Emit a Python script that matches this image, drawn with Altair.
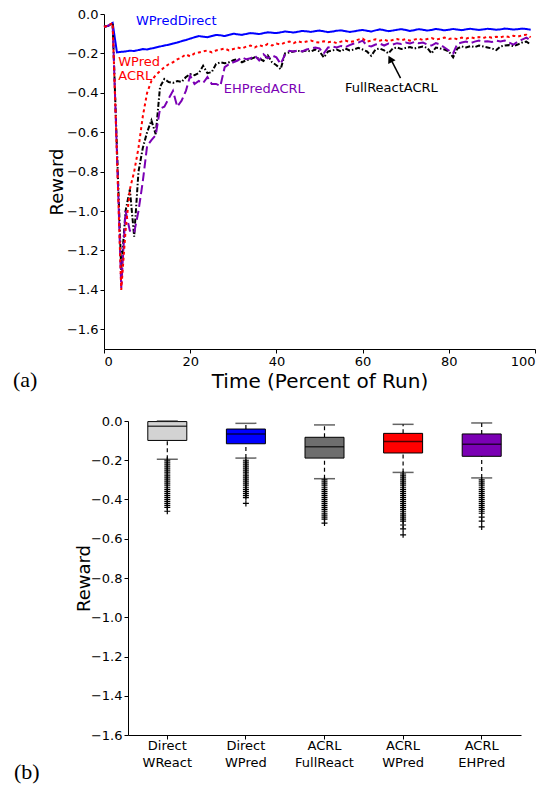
import altair as alt
import pandas as pd

# ---------------- Panel (a): reward over time ----------------
time_pct = list(range(100))

wpred_direct = [
    -0.065, -0.060, -0.045, -0.195, -0.192, -0.190, -0.186, -0.188, -0.183, -0.178,
    -0.180, -0.175, -0.170, -0.165, -0.160, -0.156, -0.150, -0.145, -0.138, -0.132,
    -0.125, -0.118, -0.112, -0.115, -0.118, -0.112, -0.106, -0.108, -0.112, -0.106,
    -0.100, -0.103, -0.106, -0.101, -0.097, -0.099, -0.102, -0.097, -0.093, -0.095,
    -0.097, -0.093, -0.089, -0.091, -0.094, -0.090, -0.086, -0.088, -0.091, -0.087,
    -0.084, -0.088, -0.092, -0.089, -0.085, -0.083, -0.087, -0.091, -0.088, -0.084,
    -0.081, -0.085, -0.089, -0.083, -0.078, -0.082, -0.087, -0.084, -0.080, -0.077,
    -0.081, -0.086, -0.082, -0.077, -0.080, -0.084, -0.081, -0.076, -0.079, -0.083,
    -0.080, -0.076, -0.079, -0.082, -0.078, -0.075, -0.078, -0.081, -0.078, -0.075,
    -0.077, -0.080, -0.078, -0.074, -0.076, -0.079, -0.077, -0.074, -0.076, -0.080,
]

wpred_acrl = [
    -0.065, -0.060, -0.045, -0.720, -1.400, -1.100, -0.890, -0.800, -0.680, -0.520,
    -0.400, -0.340, -0.310, -0.290, -0.270, -0.255, -0.245, -0.230, -0.220, -0.205,
    -0.215, -0.200, -0.195, -0.190, -0.185, -0.195, -0.185, -0.180, -0.175, -0.185,
    -0.178, -0.170, -0.175, -0.165, -0.160, -0.170, -0.158, -0.165, -0.152, -0.160,
    -0.150, -0.155, -0.145, -0.140, -0.148, -0.138, -0.145, -0.140, -0.135, -0.142,
    -0.145, -0.138, -0.143, -0.140, -0.148, -0.140, -0.135, -0.142, -0.138, -0.130,
    -0.125, -0.140, -0.135, -0.128, -0.135, -0.130, -0.138, -0.132, -0.127, -0.133,
    -0.128, -0.135, -0.130, -0.125, -0.132, -0.127, -0.122, -0.130, -0.125, -0.120,
    -0.127, -0.122, -0.128, -0.120, -0.125, -0.118, -0.123, -0.117, -0.122, -0.115,
    -0.120, -0.115, -0.118, -0.112, -0.117, -0.110, -0.115, -0.108, -0.105, -0.118,
]

fullreact_acrl = [
    -0.065, -0.060, -0.045, -0.680, -1.300, -1.000, -0.890, -1.130, -0.800, -0.680,
    -0.600, -0.540, -0.610, -0.370, -0.330, -0.345, -0.350, -0.340, -0.345, -0.320,
    -0.305, -0.310, -0.300, -0.263, -0.300, -0.295, -0.254, -0.245, -0.250, -0.245,
    -0.235, -0.229, -0.245, -0.235, -0.229, -0.220, -0.225, -0.238, -0.210, -0.245,
    -0.260, -0.280, -0.200, -0.195, -0.190, -0.187, -0.190, -0.185, -0.190, -0.180,
    -0.190, -0.220, -0.190, -0.185, -0.180, -0.190, -0.175, -0.185, -0.180, -0.172,
    -0.180, -0.190, -0.212, -0.180, -0.175, -0.185, -0.200, -0.175, -0.170, -0.178,
    -0.172, -0.168, -0.175, -0.170, -0.165, -0.172, -0.200, -0.170, -0.175, -0.180,
    -0.190, -0.220, -0.175, -0.165, -0.170, -0.163, -0.168, -0.160, -0.165, -0.170,
    -0.175, -0.183, -0.165, -0.160, -0.158, -0.163, -0.155, -0.145, -0.140, -0.155,
]

ehpred_acrl = [
    -0.065, -0.060, -0.045, -0.700, -1.390, -1.000, -1.100, -1.110, -1.000, -0.850,
    -0.670, -0.640, -0.615, -0.480, -0.470, -0.430, -0.390, -0.470, -0.440, -0.390,
    -0.313, -0.355, -0.340, -0.350, -0.320, -0.355, -0.355, -0.365, -0.270, -0.254,
    -0.245, -0.236, -0.220, -0.230, -0.225, -0.212, -0.236, -0.204, -0.225, -0.210,
    -0.220, -0.254, -0.205, -0.187, -0.190, -0.185, -0.190, -0.180, -0.175, -0.170,
    -0.175, -0.200, -0.170, -0.165, -0.170, -0.162, -0.168, -0.158, -0.150, -0.145,
    -0.135, -0.160, -0.165, -0.155, -0.150, -0.160, -0.150, -0.155, -0.148, -0.152,
    -0.145, -0.150, -0.142, -0.148, -0.145, -0.155, -0.160, -0.148, -0.155, -0.170,
    -0.185, -0.200, -0.150, -0.145, -0.140, -0.148, -0.140, -0.135, -0.140, -0.138,
    -0.142, -0.135, -0.140, -0.135, -0.145, -0.155, -0.140, -0.130, -0.120, -0.135,
]

series_names = ["WPredDirect", "FullReactACRL", "EHPredACRL", "WPredACRL"]
series_values = [wpred_direct, fullreact_acrl, ehpred_acrl, wpred_acrl]
series_colors = ["#0000ff", "#000000", "#7b00b4", "#ff0000"]
series_dashes = [[1, 0], [5, 2, 1.5, 2], [9, 4], [3, 3]]

rows = []
for name, vals in zip(series_names, series_values):
    for t, v in zip(time_pct, vals):
        rows.append({"t": t, "v": v, "series": name})
line_df = pd.DataFrame(rows)

# annotations (data coordinates)
ann_text = ["WPredDirect", "WPred\nACRL", "EHPredACRL", "FullReactACRL"]
ann_t = [7.4, 3.3, 27.8, 55.9]
ann_v = [-0.04, -0.25, -0.384, -0.38]
ann_color = ["#0000ff", "#ff0000", "#7b00b4", "#000000"]
ann_df = pd.DataFrame({"t": ann_t, "v": ann_v, "text": ann_text, "color": ann_color})

arrow_df = pd.DataFrame({"t": [68.8], "v": [-0.325], "t2": [66.8], "v2": [-0.24]})
head_df = pd.DataFrame({"t": [66.4], "v": [-0.228]})

x_top = alt.X("t:Q", scale=alt.Scale(domain=[0, 100], nice=False, range=[0, 431]),
              axis=alt.Axis(title="Time (Percent of Run)", values=[0, 20, 40, 60, 80, 100],
                            format="d", titlePadding=3, titleFontSize=20))
y_top = alt.Y("v:Q", scale=alt.Scale(domain=[-1.7, 0.0], nice=False),
              axis=alt.Axis(title="Reward", values=[0.0, -0.2, -0.4, -0.6, -0.8, -1.0, -1.2, -1.4, -1.6],
                            format=".1f", labelOverlap=False, titlePadding=0))

lines = alt.Chart(line_df).mark_line(strokeWidth=2).encode(
    x=x_top, y=y_top,
    color=alt.Color("series:N", scale=alt.Scale(domain=series_names, range=series_colors), legend=None),
    strokeDash=alt.StrokeDash("series:N", scale=alt.Scale(domain=series_names, range=series_dashes), legend=None),
    detail="series:N",
)

ann = alt.Chart(ann_df).mark_text(align="left", baseline="top", font="DejaVu Sans", fontSize=13,
                                  lineBreak="\n", lineHeight=14, dy=-7).encode(
    x="t:Q", y="v:Q", text="text:N", color=alt.Color("color:N", scale=None)
)

arrow = alt.Chart(arrow_df).mark_rule(color="black", strokeWidth=1.5).encode(
    x="t:Q", y="v:Q", x2="t2:Q", y2="v2:Q"
)
head = alt.Chart(head_df).mark_point(shape="triangle-up", filled=True, color="black", size=70,
                                     angle=332, opacity=1).encode(x="t:Q", y="v:Q")

label_a = alt.Chart(pd.DataFrame({"s": ["(a)"]})).mark_text(
    align="left", baseline="middle", font="Liberation Serif", fontSize=22, color="black"
).encode(x=alt.value(-91), y=alt.value(366), text="s:N")

top = alt.layer(lines, ann, arrow, head, label_a).properties(width=441, height=335)

# ---------------- Panel (b): box plots ----------------
box_categories = ["Direct WReact", "Direct WPred", "ACRL FullReact", "ACRL WPred", "ACRL EHPred"]
box_colors = ["#d3d3d3", "#0000ff", "#6e6e6e", "#ff0000", "#7b00b4"]
whisker_low = [-0.195, -0.189, -0.294, -0.262, -0.290]
q1 = [-0.099, -0.116, -0.189, -0.163, -0.180]
median = [-0.027, -0.066, -0.131, -0.105, -0.119]
q3 = [-0.003, -0.041, -0.083, -0.063, -0.066]
whisker_high = [0.0, -0.012, -0.020, -0.017, -0.010]

outliers_direct_wreact = [-0.20, -0.21, -0.22, -0.23, -0.24, -0.25, -0.26, -0.27, -0.28, -0.29, -0.30,
                          -0.31, -0.32, -0.33, -0.34, -0.35, -0.36, -0.37, -0.38, -0.39, -0.40, -0.41,
                          -0.42, -0.43, -0.44, -0.46]
outliers_direct_wpred = [-0.20, -0.21, -0.22, -0.23, -0.24, -0.25, -0.26, -0.27, -0.28, -0.29, -0.30,
                         -0.31, -0.32, -0.33, -0.34, -0.35, -0.36, -0.37, -0.38, -0.39, -0.42]
outliers_acrl_fullreact = [-0.30, -0.31, -0.32, -0.33, -0.34, -0.35, -0.36, -0.37, -0.38, -0.39, -0.40,
                           -0.41, -0.42, -0.43, -0.44, -0.45, -0.46, -0.47, -0.48, -0.49, -0.50, -0.52]
outliers_acrl_wpred = [-0.27, -0.28, -0.29, -0.30, -0.31, -0.32, -0.33, -0.34, -0.35, -0.36, -0.37,
                       -0.38, -0.39, -0.40, -0.41, -0.42, -0.43, -0.44, -0.45, -0.46, -0.47, -0.48,
                       -0.49, -0.50, -0.51, -0.53, -0.55, -0.58]
outliers_acrl_ehpred = [-0.30, -0.31, -0.32, -0.33, -0.34, -0.35, -0.36, -0.37, -0.38, -0.39, -0.40,
                        -0.41, -0.42, -0.43, -0.44, -0.45, -0.46, -0.47, -0.49, -0.51, -0.54]
outlier_lists = [outliers_direct_wreact, outliers_direct_wpred, outliers_acrl_fullreact,
                 outliers_acrl_wpred, outliers_acrl_ehpred]

box_df = pd.DataFrame({
    "cat": box_categories, "color": box_colors, "lo": whisker_low, "q1": q1,
    "med": median, "q3": q3, "hi": whisker_high,
})
out_df = pd.DataFrame([{"cat": c, "v": v} for c, vals in zip(box_categories, outlier_lists) for v in vals])

x_box = alt.X("cat:N", sort=box_categories,
              scale=alt.Scale(domain=box_categories, paddingInner=0, paddingOuter=0),
              axis=alt.Axis(title=None, labelAngle=0, labelExpr="split(datum.label, ' ')",
                            labelLineHeight=17, labelPadding=0))
y_box_axis = alt.Axis(title="Reward", values=[0.0, -0.2, -0.4, -0.6, -0.8, -1.0, -1.2, -1.4, -1.6],
                      format=".1f", labelOverlap=False, titlePadding=-3)
y_scale = alt.Scale(domain=[-1.6, 0.0], nice=False)


def yb(field):
    return alt.Y(field, scale=y_scale, axis=y_box_axis)


base = alt.Chart(box_df)
wl = base.mark_rule(color="black", strokeDash=[4, 3], strokeWidth=1.2).encode(
    x=x_box, y=yb("lo:Q"), y2="q1:Q")
wh = base.mark_rule(color="black", strokeDash=[4, 3], strokeWidth=1.2).encode(
    x=x_box, y=yb("q3:Q"), y2="hi:Q")
box = base.mark_bar(size=39, stroke="black", strokeWidth=1).encode(
    x=x_box, y=yb("q1:Q"), y2="q3:Q", color=alt.Color("color:N", scale=None))
med = base.mark_tick(size=39, thickness=1.5, color="black").encode(x=x_box, y=yb("med:Q"))
cap_lo = base.mark_tick(size=21, thickness=1.5, color="#222222").encode(x=x_box, y=yb("lo:Q"))
cap_hi = base.mark_tick(size=21, thickness=1.5, color="#222222").encode(x=x_box, y=yb("hi:Q"))
outs = alt.Chart(out_df).mark_point(shape="M-1,0L1,0M0,-1L0,1", filled=False, color="black",
                                    strokeWidth=1.2, size=36, opacity=1).encode(x=x_box, y=yb("v:Q"))

label_b = alt.Chart(pd.DataFrame({"s": ["(b)"]})).mark_text(
    align="left", baseline="middle", font="Liberation Serif", fontSize=22, color="black"
).encode(x=alt.value(-114), y=alt.value(351), text="s:N")

bottom = alt.layer(wl, wh, box, med, cap_lo, cap_hi, outs, label_b).properties(width=393, height=314)

chart = alt.vconcat(top, bottom, spacing=72, bounds="flush", center=True).properties(
    padding={"left": 5, "top": 0, "right": 0, "bottom": 5}
).configure_view(stroke=None).configure_axis(
    grid=False, domainColor="black", tickColor="black", labelColor="black", titleColor="black",
    labelFont="DejaVu Sans", labelFontSize=13, titleFont="DejaVu Sans", titleFontSize=18,
    titleFontWeight="normal", tickSize=4, domainWidth=1,
)

chart.save("out.html", embed_options={"renderer": "svg", "actions": False})
